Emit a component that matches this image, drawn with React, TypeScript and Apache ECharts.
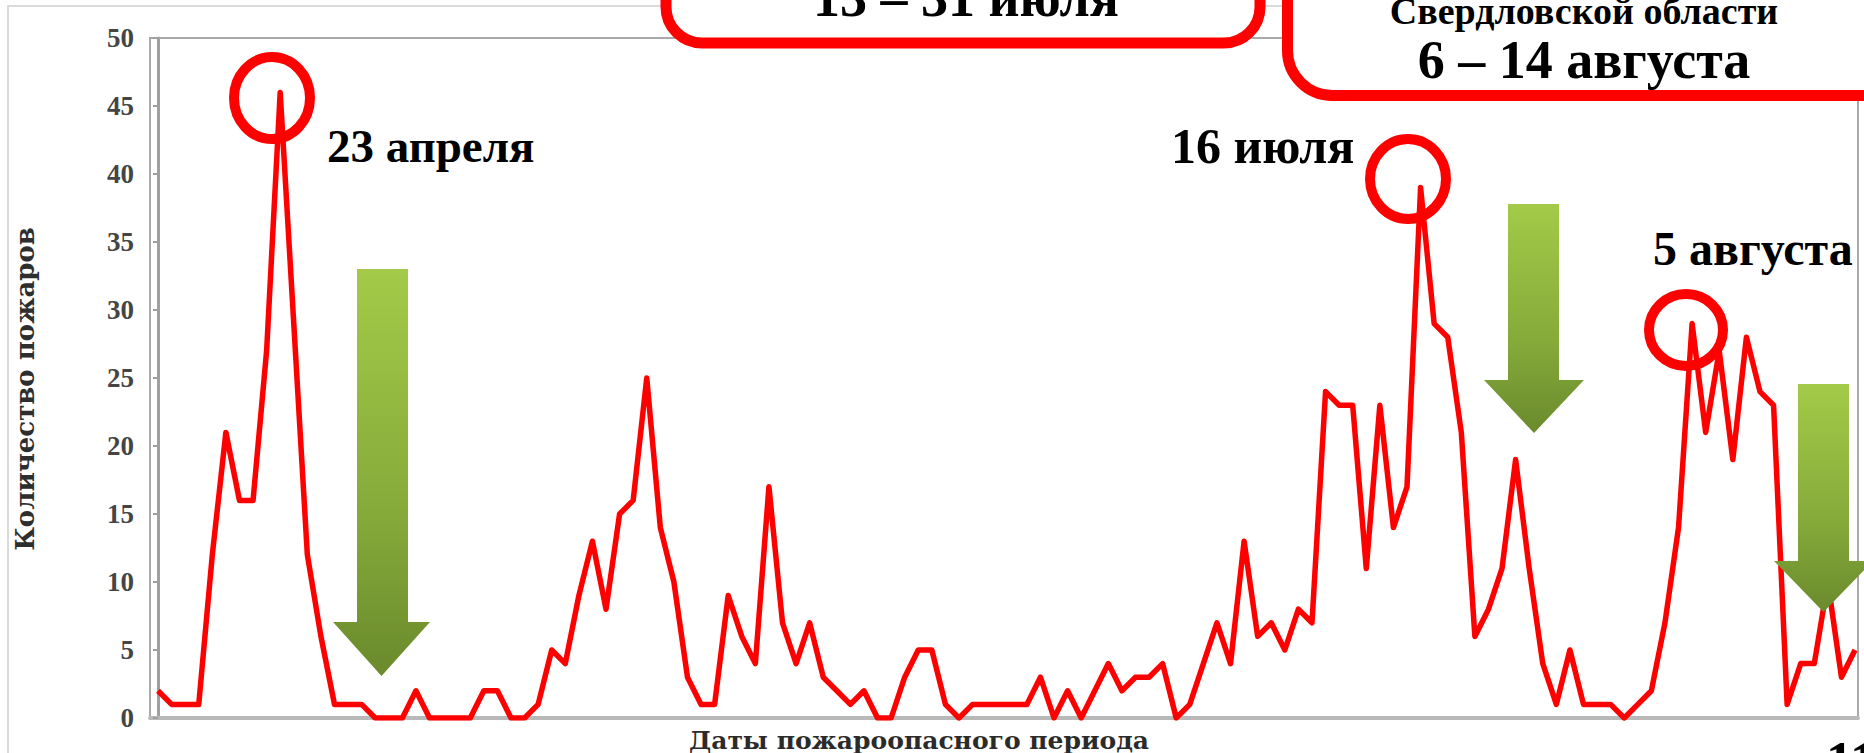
import React, { useEffect, useRef } from "react";
import * as echarts from "echarts";

// Daily number of forest fires, 14 April – 17 August
const aprilCounts = [2, 1, 1, 1, 12, 21, 16, 16, 27, 46, 29, 12, 6, 1, 1, 1, 0]; // 14–30 Apr
const mayCounts = [0, 0, 2, 0, 0, 0, 0, 2, 2, 0, 0, 1, 5, 4, 9, 13, 8, 15, 16, 25, 14, 10, 3, 1, 1, 9, 6, 4, 17, 7, 4];
const juneCounts = [7, 3, 2, 1, 2, 0, 0, 3, 5, 5, 1, 0, 1, 1, 1, 1, 1, 3, 0, 2, 0, 2, 4, 2, 3, 3, 4, 0, 1, 4];
const julyCounts = [7, 4, 13, 6, 7, 5, 8, 7, 24, 23, 23, 11, 23, 14, 17, 39, 29, 28, 21, 6, 8, 11, 19, 11, 4, 1, 5, 1, 1, 1, 0];
const augustCounts = [1, 2, 7, 14, 29, 21, 27, 19, 28, 24, 23, 1, 4, 4, 10, 3, 5]; // 1–17 Aug

const yAxisTitle = "Количество пожаров";
const xAxisTitle = "Даты пожароопасного периода";
const peakLabels = ["23 апреля", "16 июля", "5 августа"];
const boxTexts = ["13 – 31 июля", "Свердловской области", "6 – 14 августа"];
const slideNumber = "11";

const allCounts = [...aprilCounts, ...mayCounts, ...juneCounts, ...julyCounts, ...augustCounts];

export default function App() {
  const ref = useRef<HTMLDivElement>(null);

  useEffect(() => {
    if (!ref.current) return;
    const chart = echarts.init(ref.current, undefined, { renderer: "svg" });

    const arrowGrad = () =>
      new echarts.graphic.LinearGradient(0, 0, 0, 1, [
        { offset: 0, color: "#a3ca48" },
        { offset: 0.6, color: "#86aa3a" },
        { offset: 1, color: "#6a8a2c" },
      ]);

    const arrow = (l: number, r: number, top: number, base: number, hl: number, hr: number, tipY: number) => ({
      type: "polygon",
      z: 100,
      shape: {
        points: [
          [l, top],
          [r, top],
          [r, base],
          [hr, base],
          [(hl + hr) / 2, tipY],
          [hl, base],
          [l, base],
        ],
      },
      style: { fill: arrowGrad() },
    });

    const serif = "'Liberation Serif', 'Times New Roman', serif";
    const dejavu = "'DejaVu Serif', serif";
    const txt = (text: string, x: number, y: number, size: number, align: string, family = serif, color = "#000", rotation = 0) => ({
      type: "text",
      z: 110,
      x,
      y,
      rotation,
      style: {
        text,
        fontSize: size,
        fontWeight: "bold",
        fontFamily: family,
        fill: color,
        align,
        textAlign: align,
        verticalAlign: "middle",
        textVerticalAlign: "middle",
      },
    });

    const ellipse = (cx: number, cy: number, rx: number, ry: number) => ({
      type: "ellipse",
      z: 105,
      shape: { cx, cy, rx, ry },
      style: { fill: "none", stroke: "#ff0000", lineWidth: 10 },
    });

    const option: any = {
      animation: false,
      backgroundColor: "#ffffff",
      grid: {
        left: 150,
        top: 38,
        width: 1708,
        height: 680,
        containLabel: false,
        outerBoundsMode: "none",
        show: true,
        borderColor: "#a9a9a9",
        borderWidth: 2,
        backgroundColor: "transparent",
      },
      xAxis: {
        type: "value",
        min: -0.59,
        max: 125.22,
        axisLine: { show: true, onZero: false, lineStyle: { color: "#b9b9b9", width: 4 } },
        axisTick: { show: false },
        axisLabel: { show: false },
        splitLine: { show: false },
      },
      yAxis: {
        type: "value",
        min: 0,
        max: 50,
        interval: 5,
        axisLine: { show: true, lineStyle: { color: "#a0a0a0", width: 3 } },
        axisTick: { show: true, length: 5, lineStyle: { color: "#a0a0a0", width: 2 } },
        axisLabel: {
          fontFamily: serif,
          fontWeight: "bold",
          fontSize: 27,
          color: "#454545",
          margin: 16,
        },
        splitLine: { show: false },
      },
      series: [
        {
          type: "line",
          data: allCounts.map((v, i) => [i, v]),
          symbol: "none",
          showSymbol: false,
          lineStyle: { color: "#ff0000", width: 5.5, join: "round" },
          z: 5,
        },
      ],
      graphic: [
        {
          type: "rect",
          z: 1,
          shape: { x: 8, y: 6, width: 1880, height: 800 },
          style: { fill: "none", stroke: "#dadada", lineWidth: 2 },
        },
        txt(xAxisTitle, 919, 740, 25, "center", dejavu, "#2b2b2b"),
        txt(yAxisTitle, 25, 389, 26, "center", dejavu, "#2e2e2e", Math.PI / 2),
        arrow(357, 408, 269, 622, 333, 430, 676),
        arrow(1508, 1559, 204, 380, 1484, 1584, 433),
        arrow(1798, 1849, 384, 561, 1774, 1873, 612),
        ellipse(272, 98, 38, 41),
        ellipse(1408, 179, 38, 40),
        ellipse(1686, 330, 37, 36),
        {
          type: "rect",
          z: 102,
          shape: { x: 666, y: -60, width: 594, height: 103, r: 36 },
          style: { fill: "#ffffff", stroke: "#ff0000", lineWidth: 11 },
        },
        {
          type: "rect",
          z: 102,
          shape: { x: 1287.5, y: -80, width: 700, height: 175.5, r: 45 },
          style: { fill: "#ffffff", stroke: "#ff0000", lineWidth: 11 },
        },
        txt(boxTexts[0], 966, -2, 54, "center"),
        txt(boxTexts[1], 1584, 11, 38, "center"),
        txt(boxTexts[2], 1584, 60, 54, "center"),
        txt(peakLabels[0], 327, 146, 47, "left"),
        txt(peakLabels[1], 1171, 146, 50, "left"),
        txt(peakLabels[2], 1653, 248, 48, "left"),
        txt(slideNumber, 1826, 761, 54, "left"),
      ],
    };

    chart.setOption(option);
    return () => chart.dispose();
  }, []);

  return (
    <div
      ref={ref}
      style={{ position: "absolute", left: 0, top: 0, width: 1864, height: 753, background: "#fff" }}
    />
  );
}
